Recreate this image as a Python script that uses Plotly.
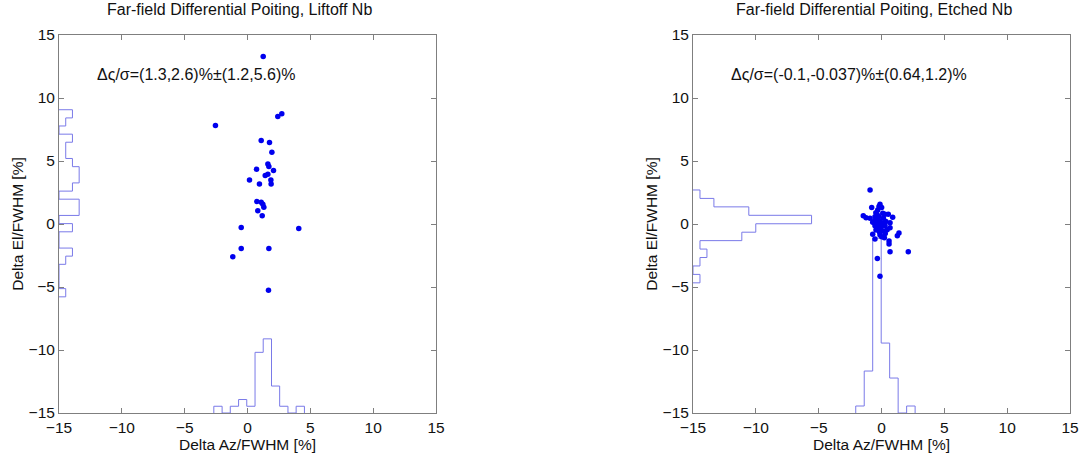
import plotly.graph_objects as go

# ---------------- data ----------------
# Left panel: Liftoff Nb
liftoff_az = [1.25, 2.41, 2.73, 1.09, 1.75, 1.94, 1.62, 1.70, 0.72, 2.07, 1.62, 1.41,
              0.16, 1.86, 1.88, 0.95, 0.74, 1.09, 1.22, 1.30, 0.82, 1.17, -0.50, 4.08,
              -0.50, 1.70, -1.17, 1.67, -2.55]
liftoff_el = [13.3, 8.54, 8.75, 6.63, 6.47, 5.70, 4.77, 4.56, 4.35, 4.24, 3.95, 3.84,
              3.50, 3.50, 3.18, 3.18, 1.78, 1.72, 1.56, 1.33, 1.06, 0.66, -0.27, -0.35,
              -1.94, -1.94, -2.60, -5.25, 7.82]

# Histogram of El (drawn along left edge), bin edges and counts
liftoff_el_edges = [-5.78, -5.13, -4.49, -3.84, -3.20, -2.55, -1.91, -1.26, -0.62, 0.03,
                    0.68, 1.32, 1.97, 2.61, 3.26, 3.90, 4.55, 5.20, 5.84, 6.49, 7.13,
                    7.78, 8.42, 9.07]
liftoff_el_counts = [1, 0, 0, 0, 1, 2, 0, 0, 2, 0, 3, 3, 0, 2, 3, 3, 2, 1, 1, 2, 0, 1, 2]

# Histogram of Az (drawn along bottom edge)
liftoff_az_edges = [-2.68, -2.02, -1.37, -0.71, -0.06, 0.60, 1.25, 1.91, 2.56, 3.22, 3.87, 4.53]
liftoff_az_counts = [1, 0, 1, 2, 1, 9, 11, 4, 1, 0, 1]

# Right panel: Etched Nb
etched_az = [-0.91, -0.12, -0.20, 0.01, -0.78, -0.30, 0.28, 0.54, -1.45, -1.23, 0.89, -0.52,
             -0.91, -0.38, -0.12, -0.70, 0.10, 0.68, -0.52, -0.25, 0.28, 0.68, -0.07, -0.44,
             0.15, -0.70, -0.12, 1.26, -0.52, 0.23, 0.01, 0.60, 0.68, 2.13, -0.33, -0.12,
             -0.45, 0.10, -0.20, 0.15, -0.60, 0.35, -0.30, 0.00, 0.45, -0.15, 0.30, -0.35,
             1.39, 0.60]
etched_el = [2.70, 1.56, 1.38, 1.30, 1.30, 1.11, 0.77, 0.77, 0.66, 0.50, 0.53, 0.58,
             0.45, 0.32, 0.24, 0.13, 0.05, 0.10, -0.13, -0.21, -0.13, -0.29, -0.40, -0.48,
             -0.56, -0.82, -0.88, -0.93, -1.19, -1.09, -1.01, -1.59, -2.20, -2.20, -2.73, -4.14,
             0.90, 0.85, 0.60, 0.45, 0.20, 0.20, 0.00, -0.15, -0.45, -0.65, -0.75, 0.75,
             -0.72, -1.35]

etched_el_edges = [-4.67, -4.00, -3.33, -2.66, -1.99, -1.32, -0.65, 0.02, 0.69, 1.36, 2.03, 2.70]
etched_el_counts = [1, 0, 1, 2, 1, 7, 9, 17, 8, 3, 1]

etched_az_edges = [-2.05, -1.375, -0.70, -0.025, 0.65, 1.325, 2.00, 2.675]
etched_az_counts = [1, 6, 25, 10, 5, 0, 1]

titles = ["Far-field Differential Poiting, Liftoff Nb",
          "Far-field Differential Poiting, Etched Nb"]
stats_text = ["Δς/σ=(1.3,2.6)%±(1.2,5.6)%",
              "Δς/σ=(-0.1,-0.037)%±(0.64,1.2)%"]
tick_vals = [-15, -10, -5, 0, 5, 10, 15]
x_label = "Delta Az/FWHM [%]"
y_label = "Delta El/FWHM [%]"

# ---------------- styling ----------------
FONT = "Liberation Sans, Arial, Helvetica, sans-serif"
PT_COLOR = "#0000ee"
HIST_COLOR = "rgb(122,122,232)"
AXIS_COLOR = "#7f7f7f"
HIST_SCALE = [0.535, 0.555]   # data units per count
BASE = -15


def stairs_vertical(edges, counts, base, scale):
    """outline of a horizontal histogram attached to the left edge"""
    xs, ys = [base], [edges[0]]
    for i, c in enumerate(counts):
        xs += [base + c * scale, base + c * scale]
        ys += [edges[i], edges[i + 1]]
    xs.append(base)
    ys.append(edges[-1])
    return xs, ys


def stairs_horizontal(edges, counts, base, scale):
    """outline of a vertical histogram attached to the bottom edge"""
    xs, ys = [edges[0]], [base]
    for i, c in enumerate(counts):
        xs += [edges[i], edges[i + 1]]
        ys += [base + c * scale, base + c * scale]
    xs.append(edges[-1])
    ys.append(base)
    return xs, ys


fig = go.Figure()

panels = [
    (liftoff_az, liftoff_el, liftoff_el_edges, liftoff_el_counts, liftoff_az_edges, liftoff_az_counts),
    (etched_az, etched_el, etched_el_edges, etched_el_counts, etched_az_edges, etched_az_counts),
]

for k, (az, el, ye, yc, xe, xc) in enumerate(panels):
    xa = "x" if k == 0 else "x2"
    ya = "y" if k == 0 else "y2"
    hx, hy = stairs_vertical(ye, yc, BASE, HIST_SCALE[k])
    fig.add_trace(go.Scatter(x=hx, y=hy, mode="lines", xaxis=xa, yaxis=ya,
                             line=dict(color=HIST_COLOR, width=1), hoverinfo="skip",
                             showlegend=False, cliponaxis=False))
    hx, hy = stairs_horizontal(xe, xc, BASE, HIST_SCALE[k])
    fig.add_trace(go.Scatter(x=hx, y=hy, mode="lines", xaxis=xa, yaxis=ya,
                             line=dict(color=HIST_COLOR, width=1), hoverinfo="skip",
                             showlegend=False, cliponaxis=False))
    fig.add_trace(go.Scatter(x=az, y=el, mode="markers", xaxis=xa, yaxis=ya,
                             marker=dict(color=PT_COLOR, size=5.5, line=dict(width=0)),
                             showlegend=False))

axis_common = dict(range=[-15, 15], tickvals=tick_vals, ticks="inside", ticklen=5,
                   tickcolor=AXIS_COLOR, showline=True, linecolor=AXIS_COLOR, linewidth=1,
                   mirror="ticks", showgrid=False, zeroline=False, automargin=False,
                   tickfont=dict(family=FONT, size=15.5, color="#111"),
                   title_font=dict(family=FONT, size=15.5, color="#111"))

W, H = 1081, 456
xd1 = [59 / W, 436 / W]
xd2 = [693 / W, 1070 / W]
yd = [1 - 413 / H, 1 - 35 / H]

fig.update_layout(
    width=W, height=H,
    margin=dict(l=0, r=0, t=0, b=0, autoexpand=False),
    paper_bgcolor="white", plot_bgcolor="white",
    font=dict(family=FONT, size=15, color="#111"),
    xaxis=dict(domain=xd1, anchor="y", title=dict(text=x_label, standoff=0), **axis_common),
    yaxis=dict(domain=yd, anchor="x", title=dict(text=y_label, standoff=1), **axis_common),
    xaxis2=dict(domain=xd2, anchor="y2", title=dict(text=x_label, standoff=0), **axis_common),
    yaxis2=dict(domain=yd, anchor="x2", title=dict(text=y_label, standoff=1), **axis_common),
)

for k, dom in enumerate([xd1, xd2]):
    fig.add_annotation(text=titles[k], xref="paper", yref="paper",
                       x=(dom[0] + dom[1]) / 2 - 8 / W, y=1 - 10 / H,
                       xanchor="center", yanchor="middle",
                       showarrow=False, font=dict(family=FONT, size=16, color="#111"))
    fig.add_annotation(text=stats_text[k], xref="x" if k == 0 else "x2",
                       yref="y" if k == 0 else "y2", x=-12.1, y=11.85,
                       xanchor="left", yanchor="middle", showarrow=False,
                       font=dict(family=FONT, size=16, color="#111"))

fig.write_html("out.html", config={"displayModeBar": False},
               post_script="document.body.style.margin='0px';")
